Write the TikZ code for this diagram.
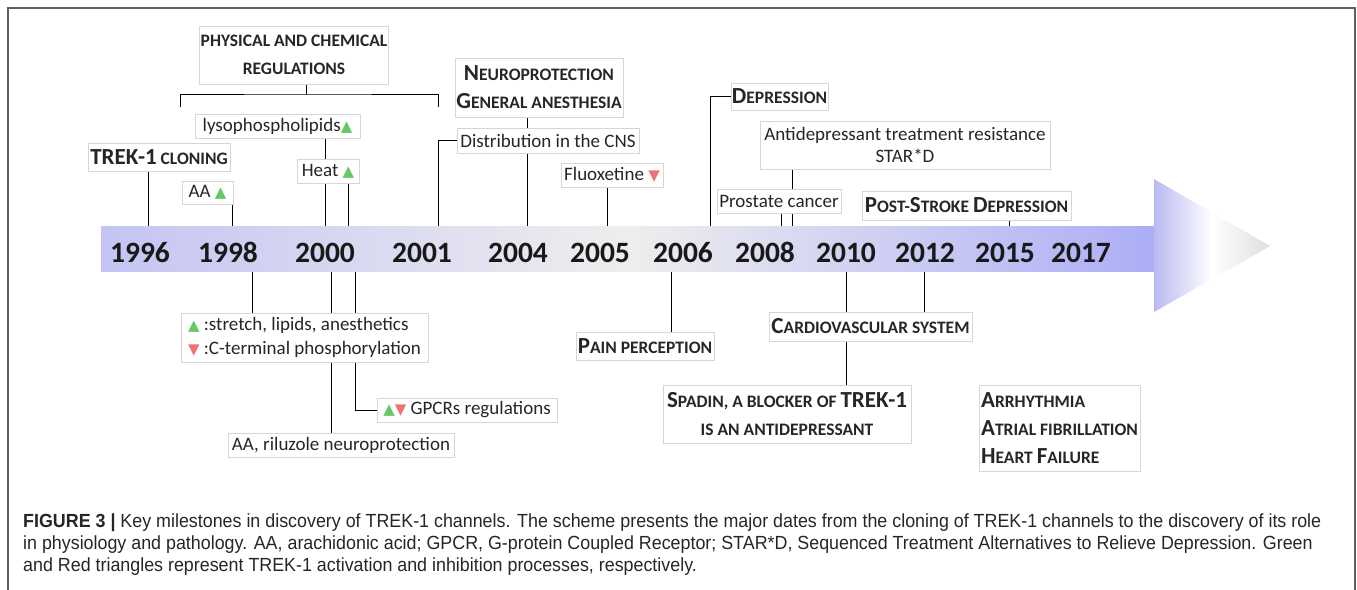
\documentclass[tikz,border=0pt]{standalone}
\usepackage{fontspec}
\setmainfont{Carlito}
\newfontfamily\capfont[FakeStretch=0.94]{Liberation Sans}
\newfontfamily\symfont{DejaVu Sans}
\usetikzlibrary{backgrounds}

\definecolor{boxgray}{RGB}{214,214,214}
\definecolor{linegray}{RGB}{200,200,200}
\definecolor{framegray}{RGB}{95,95,95}
\definecolor{barL}{RGB}{196,196,244}
\definecolor{barM}{RGB}{238,238,238}
\definecolor{barR}{RGB}{172,174,246}
\definecolor{tipL}{RGB}{186,186,242}
\definecolor{tipR}{RGB}{222,222,226}
\definecolor{upgreen}{RGB}{100,200,100}
\definecolor{downred}{RGB}{240,115,115}

\newcommand{\bigc}{\fontsize{23}{28}\selectfont}
\newcommand{\upmark}{{\symfont\fontsize{15}{15}\selectfont\color{upgreen}▲}}
\newcommand{\downmark}{{\symfont\fontsize{15}{15}\selectfont\color{downred}▼}}

\tikzset{
  box/.style={draw=boxgray, fill=white, line width=0.8pt, inner sep=1pt,
    text=black!85, font=\fontsize{19}{23}\selectfont},
  headbox/.style={box, font=\fontsize{17.5}{28}\selectfont\bfseries},
  sz/.style 2 args={minimum width=#1pt, minimum height=#2pt},
  year/.style={anchor=base, text=black!90, font=\fontsize{29.5}{30}\selectfont\bfseries},
  timebar/.style={minimum width=1053pt, minimum height=45pt, inner sep=0pt,
    left color=barL, right color=barR, middle color=barM},
  conn/.style={draw=linegray, line width=0.8pt}
}

\begin{document}
\begin{tikzpicture}[x=1pt, y=-1pt]
  \useasboundingbox (0,0) rectangle (1357,589);
  \draw[framegray, line width=1.5pt] (8,600) -- (8,8) -- (1355,8) -- (1355,600);

  % time line
  \node[timebar] (bar) at (627.5,248.5) {};
  \shade[left color=tipL, right color=tipR, middle color=white]
    (1154,179) -- (1270,246) -- (1154,312) -- cycle;
  \foreach \yr/\x in {1996/140, 1998/228, 2000/325, 2001/422, 2004/518, 2005/600,
      2006/683, 2008/765, 2010/846, 2012/925, 2015/1005, 2017/1081}
    \node[year] (y\yr) at (\x,262) {\yr};

  % above the line
  \node[headbox, sz={188}{58}, align=center] (phys) at (294,55)
    {PHYSICAL AND CHEMICAL\\REGULATIONS};
  \node[box, sz={165}{24}] (lyso) at (277.5,126) {lysophospholipids\upmark};
  \node[box, sz={62}{24}] (heat) at (328,171) {Heat \upmark};
  \node[headbox, sz={142}{28}] (trek) at (159,157) {{\bigc TREK-1} CLONING};
  \node[box, sz={51}{23}] (aa) at (207.5,192.5) {AA \upmark};
  \node[headbox, sz={168}{59}, align=center] (neuro) at (539,87.5)
    {{\bigc N}EUROPROTECTION\\{\bigc G}ENERAL ANESTHESIA};
  \node[box, sz={182}{25}] (distr) at (548,140.5) {Distribution in the CNS};
  \node[box, sz={102}{24}] (fluox) at (612,175) {Fluoxetine \downmark};
  \node[headbox, sz={97}{27}] (depr) at (779.5,96.5) {{\bigc D}EPRESSION};
  \node[box, sz={290}{48}, align=center, font=\fontsize{19}{22}\selectfont] (antid)
    at (905,145) {Antidepressant treatment resistance\\STAR*D};
  \node[box, sz={124}{24}] (prost) at (779,201) {Prostate cancer};
  \node[headbox, sz={209}{29}] (post) at (966.5,205.5)
    {{\bigc P}OST-{\bigc S}TROKE {\bigc D}EPRESSION};

  % below the line
  \node[box, sz={247}{49}, align=left, font=\fontsize{19}{24}\selectfont] (stretch)
    at (304.5,337.5)
    {\upmark\ :stretch, lipids, anesthetics\\\downmark\ :C-terminal phosphorylation};
  \node[box, sz={180}{24}] (gpcr) at (467,410) {\upmark\downmark\ GPCRs regulations};
  \node[box, sz={226}{24}] (arilu) at (341,445) {AA, riluzole neuroprotection};
  \node[headbox, sz={138}{28}] (pain) at (645,346) {{\bigc P}AIN PERCEPTION};
  \node[headbox, sz={203}{29}] (cardio) at (870.5,326.5) {{\bigc C}ARDIOVASCULAR SYSTEM};
  \node[headbox, sz={248}{58}, align=center] (spadin) at (787,414)
    {{\bigc S}PADIN, A BLOCKER OF {\bigc TREK-1}\\IS AN ANTIDEPRESSANT};
  \node[headbox, sz={161}{86}, align=left] (arrhy) at (1059.5,428)
    {{\bigc A}RRHYTHMIA\\{\bigc A}TRIAL FIBRILLATION\\{\bigc H}EART {\bigc F}AILURE};

  \coordinate (brL) at (180,107);
  \coordinate (brM) at (306,94);
  \coordinate (brR) at (438,107);

  \begin{scope}[on background layer, conn]
    \draw (306,0 |- phys.south) -- (brM);
    \draw (brL) |- (brM) -| (brR);
    \draw (148,0 |- trek.south) -- (148,0 |- bar.north);
    \draw (232,0 |- aa.south) -- (232,0 |- bar.north);
    \draw (325,0 |- lyso.south) -- (325,0 |- bar.north);
    \draw (348,0 |- heat.south) -- (348,0 |- bar.north);
    \draw (438,0 |- bar.north) |- (distr.west);
    \draw (527,0 |- neuro.south) -- (527,0 |- distr.north);
    \draw (527,0 |- distr.south) -- (527,0 |- bar.north);
    \draw (607,0 |- fluox.south) -- (607,0 |- bar.north);
    \draw (710,0 |- bar.north) |- (depr.west);
    \draw (792,0 |- antid.south) -- (792,0 |- bar.north);
    \draw (781,0 |- prost.south) -- (781,0 |- bar.north);
    \draw (1009,0 |- post.south) -- (1009,0 |- bar.north);
    \draw (252,0 |- bar.south) -- (252,0 |- stretch.north);
    \draw (331,0 |- bar.south) -- (331,0 |- arilu.north);
    \draw (355,0 |- bar.south) |- (gpcr.west);
    \draw (671,0 |- bar.south) -- (671,0 |- pain.north);
    \draw (846,0 |- bar.south) -- (846,0 |- spadin.north);
    \draw (924,0 |- bar.south) -- (924,0 |- cardio.north);
  \end{scope}

  % caption
  \node[anchor=north west, align=left, inner sep=0pt, text=black!85,
      font=\capfont\fontsize{19}{22}\selectfont] (cap) at (23,514)
    {\textbf{FIGURE 3 |} Key milestones in discovery of TREK-1 channels. The scheme presents the major dates from the cloning of TREK-1 channels to the discovery of its role\\
     in physiology and pathology. AA, arachidonic acid; GPCR, G-protein Coupled Receptor; STAR*D, Sequenced Treatment Alternatives to Relieve Depression. Green\\
     and Red triangles represent TREK-1 activation and inhibition processes, respectively.};
\end{tikzpicture}
\end{document}
